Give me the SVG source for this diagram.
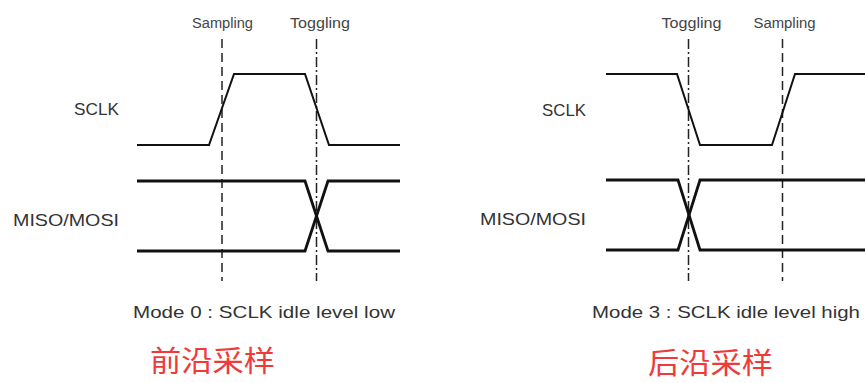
<svg xmlns="http://www.w3.org/2000/svg" width="865" height="383" viewBox="0 0 865 383">
<style>
.bg{fill:#ffffff}
.wave{fill:none;stroke:#111;stroke-width:2;stroke-linejoin:miter}
.bus{fill:none;stroke:#111;stroke-width:2.8}
.samp{stroke:#222;stroke-width:1.5;stroke-dasharray:9 5}
.togg{stroke:#222;stroke-width:1.5;stroke-dasharray:10 3 2 3}
.lbl{font-family:"Liberation Sans",Arial,sans-serif;font-size:14px;fill:#444}
.sig{font-family:"Liberation Sans",Arial,sans-serif;font-size:17px;fill:#333}
.mode{font-family:"Liberation Sans",Arial,sans-serif;font-size:17px;fill:#333}
.cn{font-family:"Noto Sans CJK SC","Noto Sans",sans-serif;font-size:29px;fill:#f03a3a}
</style>
<rect class="bg" x="0" y="0" width="865" height="383"/>
<g id="connectors">
<line class="samp" x1="222" y1="39" x2="222" y2="281"/>
<line class="togg" x1="316.5" y1="39" x2="316.5" y2="281"/>
<line class="togg" x1="688.5" y1="39" x2="688.5" y2="281"/>
<line class="samp" x1="782.5" y1="39" x2="782.5" y2="281"/>
</g>
<g id="mode0">
<text class="lbl" x="222.5" y="28" text-anchor="middle" textLength="61" lengthAdjust="spacingAndGlyphs">Sampling</text>
<text class="lbl" x="320" y="28" text-anchor="middle" textLength="60" lengthAdjust="spacingAndGlyphs">Toggling</text>
<text class="sig" x="74" y="115" textLength="45" lengthAdjust="spacingAndGlyphs">SCLK</text>
<text class="sig" x="13" y="226" textLength="106" lengthAdjust="spacingAndGlyphs">MISO/MOSI</text>
<polyline class="wave" points="137,145 209,145 234,74 305,74 329,145 400,145"/>
<polyline class="bus" points="137,181 305,181 328,251 400,251"/>
<polyline class="bus" points="137,251 305,251 328,181 400,181"/>
<text class="mode" x="133" y="318" textLength="262" lengthAdjust="spacingAndGlyphs">Mode 0 : SCLK idle level low</text>
<text class="cn" x="150" y="372" textLength="125" lengthAdjust="spacingAndGlyphs">前沿采样</text>
</g>
<g id="mode3">
<text class="lbl" x="691.5" y="28" text-anchor="middle" textLength="60" lengthAdjust="spacingAndGlyphs">Toggling</text>
<text class="lbl" x="784.5" y="28" text-anchor="middle" textLength="62" lengthAdjust="spacingAndGlyphs">Sampling</text>
<text class="sig" x="542" y="116" textLength="44" lengthAdjust="spacingAndGlyphs">SCLK</text>
<text class="sig" x="480" y="224.5" textLength="106" lengthAdjust="spacingAndGlyphs">MISO/MOSI</text>
<polyline class="wave" points="606,74 677,74 700,145 772,145 795,74 865,74"/>
<polyline class="bus" points="606,180 678,180 700,250 865,250"/>
<polyline class="bus" points="606,250 678,250 700,180 865,180"/>
<text class="mode" x="592" y="318" textLength="268" lengthAdjust="spacingAndGlyphs">Mode 3 : SCLK idle level high</text>
<text class="cn" x="648" y="374" textLength="125" lengthAdjust="spacingAndGlyphs">后沿采样</text>
</g>
</svg>
